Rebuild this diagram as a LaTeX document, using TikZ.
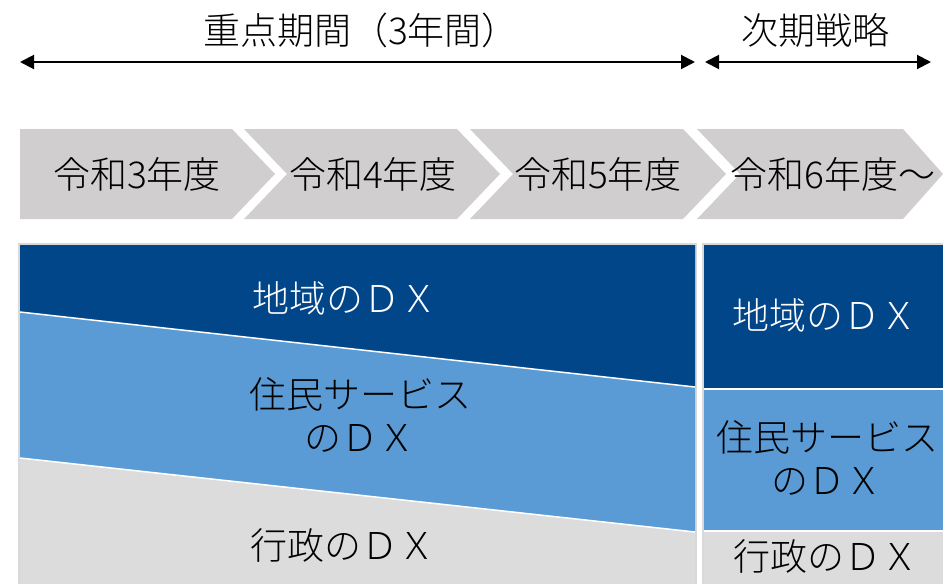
\documentclass[tikz,border=0pt]{standalone}
\usepackage{fontspec}
\setmainfont{Noto Sans CJK JP Light}
\usetikzlibrary{arrows.meta}
\definecolor{dkblue}{HTML}{02468A}
\definecolor{mdblue}{HTML}{5B9BD5}
\definecolor{chev}{HTML}{D0CECE}
\definecolor{lgray}{HTML}{DCDCDC}
\definecolor{frame}{HTML}{D9D9D9}
\tikzset{
  lbl/.style={font=\fontsize{37}{43}\selectfont, inner sep=0pt, align=center},
  span/.style={line width=2pt, {Triangle[length=14pt,width=14pt]}-{Triangle[length=14pt,width=14pt]}},
  chevfill/.style={fill=chev, draw=none},
  sep/.style={draw=white, line width=1.5pt}
}
\begin{document}
\begin{tikzpicture}[x=1pt,y=-1pt]
\useasboundingbox (0,0) rectangle (943,584);
% top spans
\coordinate (a1) at (20,62); \coordinate (a2) at (695,62);
\coordinate (b1) at (705,62); \coordinate (b2) at (931,62);
\draw[span] (a1) -- (a2);
\draw[span] (b1) -- (b2);
\node[lbl] (t1) at (361,30) {重点期間（3年間）};
\node[lbl] (t2) at (815,30) {次期戦略};
% chevrons
\fill[chevfill] (20,129) -- (232,129) -- (275,174) -- (232,219) -- (20,219) -- cycle;
\fill[chevfill] (244,129) -- (457,129) -- (500,174) -- (457,219) -- (244,219) -- (287,174) -- cycle;
\fill[chevfill] (470,129) -- (683,129) -- (726,174) -- (683,219) -- (470,219) -- (513,174) -- cycle;
\fill[chevfill] (697,129) -- (903,129) -- (943,174) -- (903,219) -- (697,219) -- (740,174) -- cycle;
\node[lbl] (c1) at (137,174) {令和3年度};
\node[lbl] (c2) at (373,174) {令和4年度};
\node[lbl] (c3) at (598,174) {令和5年度};
\node[lbl] (c4) at (833,174) {令和6年度～};
% left block
\fill[frame] (18,243) rectangle (697,584);
\fill[lgray] (20,245) rectangle (695,584);
\fill[mdblue] (20,245) -- (695,245) -- (695,532) -- (20,458) -- cycle;
\fill[dkblue] (20,245) -- (695,245) -- (695,387) -- (20,312) -- cycle;
\draw[sep] (20,312) -- (695,387);
\draw[sep] (20,458) -- (695,532);
\node[lbl, text=white] (l1) at (345,298) {地域のＤＸ};
\node[lbl] (l2) at (360,415) {住民サービス\\のＤＸ};
\node[lbl] (l3) at (343,545) {行政のＤＸ};
% right block
\fill[frame] (702,243) rectangle (943,584);
\fill[lgray] (704,245) rectangle (943,584);
\fill[dkblue] (704,245) rectangle (943,388);
\fill[mdblue] (704,390) rectangle (943,530);
\draw[sep] (704,389) -- (943,389);
\draw[sep] (704,531) -- (943,531);
\node[lbl, text=white] (r1) at (825,315) {地域のＤＸ};
\node[lbl] (r2) at (827,458) {住民サービス\\のＤＸ};
\node[lbl] (r3) at (826,556) {行政のＤＸ};
\end{tikzpicture}
\end{document}
